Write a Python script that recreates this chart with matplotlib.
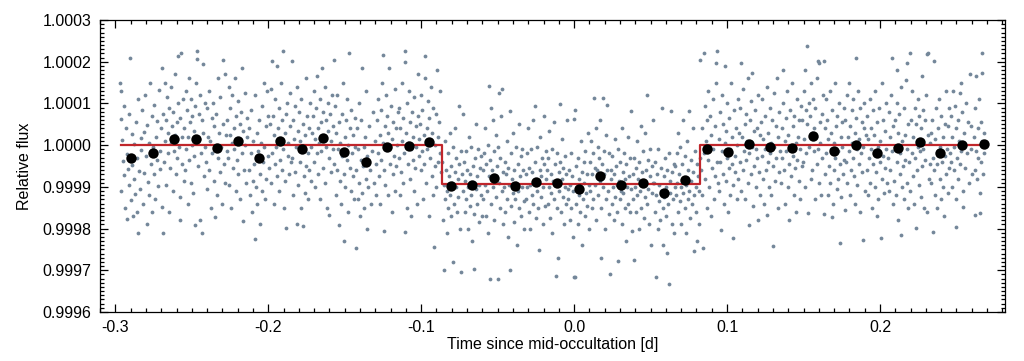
"""
Occultation light curve: unbinned photometry (grey), binned points (black)
and the best-fit box model (red).
"""

import matplotlib
matplotlib.use("Agg")
import matplotlib.pyplot as plt
from matplotlib.ticker import MultipleLocator, FormatStrFormatter

plt.rcParams["font.family"] = ["Liberation Sans", "DejaVu Sans"]

# -----------------------------------------------------------------------------
# unbinned points: (time [1e-4 d], flux offset [ppm])
# -----------------------------------------------------------------------------
GRAY_PRE = [
    (-2968,150),(-2966,130),(-2963,62),(-2960,-111),(-2955,12),(-2951,-38),(-2946,-72),(-2941,95),(-2936,-150),(-2931,40),(-2927,-176),(-2922,-22),(-2917,-58),(-2913,74),(-2908,-96),(-2902,208),(-2898,-132),(-2894,26),(-2889,-47),(-2886,-171),(-2881,-80),(-2876,3),(-2871,-118),(-2866,55),(-2861,-160),(-2856,-31),(-2852,110),(-2847,-61),(-2853,-211),(-2838,-104),(-2834,18),
    (-2829,-12),(-2824,84),(-2820,-140),(-2815,32),(-2811,-66),(-2806,120),(-2801,-25),(-2796,-190),(-2792,48),(-2787,-88),(-2782,5),(-2777,-120),(-2773,150),(-2768,-44),(-2763,70),(-2758,-160),(-2754,-5),(-2749,96),(-2744,-70),(-2740,-130),(-2735,20),(-2730,-35),(-2725,58),(-2720,-98),(-2716,132),(-2711,-15),(-2706,-58),(-2701,40),(-2696,-148),(-2694,186),(-2688,-211),
    (-2686,75),(-2682,-40),(-2678,150),(-2674,10),(-2670,-95),(-2666,60),(-2662,115),(-2658,-20),(-2654,30),(-2650,-160),(-2646,90),(-2641,-55),(-2637,140),(-2633,5),(-2629,45),(-2625,-110),(-2621,80),(-2617,-15),(-2613,25),(-2609,170),(-2604,-70),(-2600,55),(-2596,-30),(-2592,214),(-2588,100),(-2584,-5),(-2580,-125),(-2576,65),(-2574,-179),(-2570,222),(-2566,20),(-2562,-45),(-2558,110),(-2554,-85),
    (-2548,40),(-2544,-60),(-2540,130),(-2536,-10),(-2532,85),(-2528,-140),(-2524,20),(-2520,160),(-2516,-35),(-2512,55),(-2508,-90),(-2504,110),(-2500,0),(-2496,70),(-2492,-115),(-2488,35),(-2484,-25),(-2480,95),(-2476,-191),(-2472,150),(-2468,226),(-2465,206),(-2460,-50),(-2456,15),(-2452,75),(-2448,-179),(-2444,120),(-2440,-20),(-2436,60),(-2433,-211),(-2428,194),(-2424,30),(-2420,-75),(-2416,100),(-2412,-5),
    (-2407,-40),(-2403,88),(-2398,-105),(-2394,20),(-2389,130),(-2385,-60),(-2380,10),(-2376,-150),(-2371,65),(-2367,-20),(-2362,100),(-2358,-85),(-2353,45),(-2349,-173),(-2344,-10),(-2340,75),(-2335,-120),(-2331,160),(-2326,-30),(-2322,30),(-2317,-65),(-2313,115),(-2308,-5),(-2304,-140),(-2299,50),(-2296,204),(-2291,-45),(-2286,170),(-2282,-90),(-2277,25),(-2273,-15),
    (-2268,60),(-2264,-30),(-2260,140),(-2256,-95),(-2251,25),(-2247,90),(-2243,-150),(-2239,5),(-2234,120),(-2230,-55),(-2226,40),(-2222,-10),(-2217,160),(-2213,-110),(-2209,70),(-2205,-35),(-2200,105),(-2196,-70),(-2192,15),(-2188,50),(-2183,-130),(-2179,80),(-2175,-20),(-2170,186),(-2166,-183),(-2162,35),(-2158,-60),(-2153,125),(-2149,0),(-2145,-90),(-2141,65),(-2137,20),
    (-2128,-60),(-2124,40),(-2119,-120),(-2115,85),(-2110,-20),(-2106,-160),(-2102,10),(-2097,-85),(-2093,-45),(-2088,120),(-2084,-226),(-2080,-100),(-2075,30),(-2071,-140),(-2066,-15),(-2062,60),(-2057,-70),(-2053,-190),(-2049,5),(-2044,-110),(-2040,95),(-2035,-40),(-2031,150),(-2026,-5),(-2022,-130),(-2017,45),(-2013,-80),(-2008,130),(-2004,-25),(-1999,70),(-1994,-55),
    (-1988,50),(-1985,-90),(-1981,135),(-1977,202),(-1973,-20),(-1969,70),(-1965,-140),(-1961,25),(-1957,110),(-1953,-45),(-1949,-5),(-1945,190),(-1941,-75),(-1937,40),(-1933,-110),(-1929,90),(-1925,15),(-1921,-35),(-1917,150),(-1913,-60),(-1909,60),(-1905,-10),(-1901,226),(-1897,-150),(-1893,30),(-1889,-85),(-1885,75),(-1881,-198),(-1877,100),(-1873,-25),(-1869,5),(-1865,-70),(-1861,45),(-1857,125),(-1853,-40),
    (-1848,202),(-1844,-30),(-1840,60),(-1836,-120),(-1832,15),(-1828,95),(-1824,-65),(-1820,-5),(-1815,140),(-1811,-190),(-1807,35),(-1803,-95),(-1799,80),(-1795,-40),(-1791,10),(-1787,-150),(-1783,110),(-1779,-15),(-1775,-195),(-1771,50),(-1767,-75),(-1763,25),(-1759,-115),(-1755,160),(-1751,-50),(-1747,70),(-1743,-20),(-1739,-130),(-1735,40),(-1731,-60),(-1727,100),(-1723,-5),(-1719,-85),(-1715,30),
    (-1708,70),(-1704,-40),(-1700,130),(-1696,15),(-1692,-100),(-1688,90),(-1684,-20),(-1680,165),(-1676,40),(-1672,-70),(-1668,5),(-1664,110),(-1660,-130),(-1656,55),(-1652,-15),(-1648,185),(-1644,-55),(-1640,80),(-1636,20),(-1632,-90),(-1628,140),(-1624,-5),(-1620,60),(-1616,-150),(-1612,35),(-1608,100),(-1605,-167),(-1600,-30),(-1596,75),(-1592,10),(-1588,-65),(-1584,120),(-1580,-10),(-1576,45),(-1572,205),
    (-1568,-45),(-1564,95),(-1560,-120),(-1556,30),(-1552,-60),(-1548,120),(-1544,-10),(-1540,-191),(-1536,55),(-1532,-85),(-1528,5),(-1524,-140),(-1520,75),(-1516,-25),(-1512,150),(-1508,-70),(-1504,-230),(-1500,20),(-1496,-100),(-1492,60),(-1488,-35),(-1484,110),(-1480,-160),(-1476,0),(-1472,220),(-1468,-55),(-1464,40),(-1460,-110),(-1456,85),(-1452,-20),(-1448,-75),(-1444,25),(-1440,-130),(-1436,65),(-1432,-5),
    (-1428,-247),(-1424,-60),(-1420,40),(-1416,-130),(-1412,-10),(-1408,-90),(-1404,100),(-1400,-170),(-1396,-35),(-1392,60),(-1388,-115),(-1384,186),(-1380,-50),(-1376,-5),(-1372,-150),(-1368,20),(-1364,-80),(-1360,130),(-1356,-200),(-1352,-25),(-1347,-100),(-1342,45),(-1336,-60),(-1329,-140),(-1322,-15),(-1315,80),(-1308,-90),(-1302,10),(-1297,-45),(-1293,-120),
    (-1288,60),(-1284,-20),(-1280,110),(-1276,-75),(-1272,25),(-1268,-140),(-1264,85),(-1260,-35),(-1256,150),(-1252,5),(-1248,217),(-1246,-205),(-1242,-60),(-1238,45),(-1234,-95),(-1230,120),(-1226,-10),(-1222,70),(-1218,-120),(-1214,30),(-1210,186),(-1206,-45),(-1202,-5),(-1198,95),(-1194,-160),(-1190,15),(-1186,-70),(-1182,55),(-1178,-25),(-1174,135),(-1170,-110),(-1166,40),(-1162,-50),(-1158,0),(-1154,80),
    (-1148,-30),(-1144,90),(-1140,-120),(-1136,40),(-1132,-65),(-1128,150),(-1124,10),(-1120,-90),(-1116,65),(-1112,-20),(-1108,226),(-1106,200),(-1104,-207),(-1100,30),(-1096,-150),(-1092,100),(-1088,-45),(-1084,5),(-1080,130),(-1076,-80),(-1072,55),(-1068,-10),(-1064,-170),(-1060,80),(-1056,-35),(-1052,20),(-1048,-110),(-1044,115),(-1040,-55),(-1036,45),(-1032,-5),(-1028,-140),(-1024,70),(-1020,170),(-1016,-25),(-1012,15),
    (-1008,50),(-1004,-60),(-1000,120),(-996,-15),(-992,85),(-988,-130),(-984,25),(-980,-45),(-976,160),(-972,214),(-968,-90),(-964,40),(-960,-10),(-956,105),(-952,-170),(-948,65),(-944,-30),(-940,10),(-936,140),(-932,-75),(-928,30),(-924,-120),(-920,90),(-916,-243),(-912,0),(-908,-50),(-904,75),(-900,-100),(-896,180),(-892,20),(-888,-40),(-884,55),(-880,-20),(-876,130),(-872,-65),
]

GRAY_IN = [
    (-862,-40),(-858,-180),(-854,-95),(-850,-300),(-846,10),(-842,-130),(-838,-60),(-834,-210),(-830,-110),(-826,-20),(-822,-150),(-818,-75),(-814,30),(-810,-120),(-806,-50),(-802,-170),(-798,-90),(-794,-5),(-790,-279),(-786,-140),(-782,-65),(-778,40),(-774,-100),(-770,-30),(-766,-160),(-762,-80),(-758,-125),(-754,94),(-750,-45),(-746,-200),(-742,-15),(-738,-303),(-734,-70),
    (-728,74),(-724,-110),(-720,-40),(-716,-160),(-712,-85),(-708,-15),(-704,-130),(-700,-60),(-696,-200),(-692,-100),(-688,20),(-684,-145),(-680,-70),(-676,-5),(-672,-120),(-668,-230),(-664,-50),(-660,-90),(-656,-298),(-652,-165),(-648,-30),(-644,-105),(-640,50),(-636,-75),(-632,-140),(-628,-10),(-624,-185),(-620,-95),(-616,-55),(-612,-120),(-608,-25),(-604,-170),
    (-598,-60),(-594,-130),(-590,-20),(-586,-95),(-582,40),(-578,-170),(-574,-45),(-570,-110),(-566,0),(-562,-210),(-558,-75),(-555,142),(-553,-320),(-549,-35),(-545,-140),(-541,90),(-537,-60),(-533,-100),(-529,60),(-525,-15),(-521,-180),(-517,-80),(-513,25),(-509,-125),(-505,-50),(-501,-5),(-498,-322),(-494,124),(-490,-90),(-486,-150),(-482,-30),(-478,70),(-474,-110),(-470,134),(-466,-65),(-462,-190),
    (-458,-100),(-454,-40),(-450,-160),(-446,-70),(-442,10),(-438,-130),(-434,-220),(-430,-55),(-426,-95),(-422,82),(-418,-300),(-414,-145),(-410,-20),(-406,-80),(-402,-115),(-398,30),(-394,-185),(-390,-60),(-386,-130),(-382,-5),(-378,-90),(-374,-240),(-370,-45),(-366,-110),(-362,50),(-358,-150),(-354,-75),(-350,-25),(-346,-170),(-342,-100),(-338,-10),(-334,-60),(-330,-135),(-326,-200),
    (-318,-70),(-314,-130),(-310,-20),(-306,-100),(-302,40),(-298,-160),(-294,-55),(-290,-95),(-286,-200),(-282,-10),(-278,-120),(-274,-65),(-270,60),(-266,-140),(-262,-85),(-258,94),(-254,-40),(-250,-175),(-246,-110),(-242,-5),(-238,-90),(-234,-150),(-230,-251),(-226,-60),(-222,20),(-218,-125),(-214,-75),(-210,-30),(-206,-190),(-202,-100),(-198,-45),(-194,70),(-190,-145),(-186,-80),(-182,-15),
    (-178,-60),(-174,-140),(-170,-30),(-166,-100),(-162,35),(-158,-175),(-154,-70),(-150,-115),(-146,-10),(-142,-210),(-138,-85),(-134,55),(-130,-130),(-126,-45),(-122,-95),(-117,-314),(-114,-20),(-110,-150),(-106,-271),(-102,-65),(-98,-110),(-94,98),(-90,-40),(-86,-160),(-82,-80),(-78,15),(-74,-125),(-70,-55),(-66,-190),(-62,-100),(-58,-25),(-54,-140),(-50,-70),(-46,60),(-42,-105),
    (-38,-130),(-34,-60),(-30,-180),(-26,-95),(-22,-20),(-18,-150),(-14,-75),(-10,-220),(-6,-110),(-2,-316),(2,62),(4,-316),(6,84),(10,-140),(14,-50),(18,-100),(22,-190),(26,-30),(30,-120),(34,-80),(38,-160),(42,10),(46,-105),(50,-65),(54,-240),(58,-130),(62,-40),(66,-90),(70,-170),(74,-15),(78,-115),(82,-70),(86,-145),(90,30),(94,-95),(98,-200),
    (102,-40),(106,-110),(110,10),(114,-150),(118,-70),(122,-20),(126,-130),(130,114),(134,-55),(138,-95),(142,40),(146,-180),(150,-60),(154,-5),(158,-120),(162,-30),(166,-85),(170,60),(174,-150),(178,-271),(182,-45),(186,112),(190,-100),(194,-15),(198,-70),(202,-200),(206,25),(210,-130),(214,96),(218,-60),(222,-110),(226,-20),(230,-165),(234,-310),(238,-80),
    (242,-60),(246,-140),(250,-25),(254,-100),(258,-180),(262,-70),(266,15),(270,-125),(274,-50),(278,-95),(282,-160),(286,-10),(290,-278),(294,-85),(298,-130),(302,-40),(306,-110),(310,40),(314,-190),(318,-65),(322,-115),(326,-20),(330,-150),(334,-80),(338,-230),(342,-45),(346,-100),(350,20),(354,-140),(358,-75),(362,-160),(366,-30),(370,-105),(374,82),(378,-205),
    (382,-70),(386,-130),(390,-275),(394,-30),(398,-100),(402,-160),(406,-55),(410,10),(414,-120),(418,-80),(422,-200),(426,-40),(430,-110),(434,45),(438,-150),(442,-65),(446,-95),(450,-15),(454,-175),(458,-85),(462,-125),(466,30),(470,-60),(474,120),(478,-140),(482,-105),(486,-35),(490,-190),(494,-75),(498,-10),(502,-240),(506,-115),(510,-50),(514,60),(518,-90),
    (522,-90),(526,-160),(530,-40),(534,-316),(538,-120),(542,-70),(546,-200),(550,-10),(554,-135),(558,-95),(562,-180),(566,-55),(570,-110),(574,88),(578,-150),(582,-240),(586,-75),(590,-125),(594,-30),(598,-170),(602,-100),(606,-259),(610,-60),(614,-140),(618,-20),(622,-332),(626,-85),(630,-115),(634,82),(638,-190),(642,-65),(646,-130),(650,-45),(654,-210),(658,-100),
    (662,-50),(666,-120),(670,-20),(674,-90),(678,-160),(682,30),(686,-70),(690,-135),(694,-5),(698,-100),(702,-190),(706,-45),(710,-115),(714,60),(718,-80),(722,-150),(726,-25),(730,-210),(734,-95),(738,10),(742,-130),(746,-60),(750,82),(754,-110),(758,-175),(762,-35),(766,-85),(770,-140),(774,40),(778,-65),(782,-120),(786,-254),(790,-15),(794,-100),(798,-160),(802,-45),(806,-230),(810,-75),(814,-190),(818,-110),(822,-30),
]

GRAY_POST = [
    (826,204),(830,-60),(834,40),(838,-120),(842,-247),(846,222),(850,-20),(854,95),(858,-80),(862,10),(866,-150),(870,60),(874,-35),(878,130),(882,-100),(886,-5),(890,70),(894,-170),(898,25),(902,-55),(906,110),(910,-10),(914,-130),(918,45),(922,-75),(926,150),(930,196),(934,-40),(937,226),(940,-90),
    (944,15),(948,-110),(952,80),(956,-40),(960,-203),(964,120),(968,-15),(972,-70),(976,50),(980,-140),(984,5),(987,190),(990,-85),(994,35),(998,-30),(1002,100),(1006,-160),(1010,-55),(1014,65),(1018,-10),(1022,-120),(1026,150),(1030,-45),(1034,20),(1038,-222),(1042,-95),(1046,85),(1050,-25),(1054,-65),(1058,40),(1062,-130),(1066,0),(1070,110),(1074,-80),(1078,30),
    (1082,-40),(1086,90),(1090,196),(1094,-110),(1098,20),(1102,-60),(1106,135),(1110,-15),(1114,50),(1118,-130),(1122,75),(1126,-35),(1130,10),(1134,-90),(1138,160),(1142,-20),(1146,-191),(1150,60),(1154,-70),(1158,105),(1162,-5),(1166,174),(1170,-145),(1174,35),(1178,-50),(1182,85),(1186,-10),(1190,-100),(1194,40),(1198,-30),(1202,120),(1205,-179),(1210,-65),(1214,25),(1218,-120),
    (1222,55),(1226,-25),(1230,110),(1234,-80),(1238,15),(1242,-140),(1246,70),(1250,-10),(1254,-60),(1258,-167),(1262,140),(1266,-40),(1270,30),(1274,-100),(1278,90),(1282,-20),(1286,5),(1290,-120),(1294,60),(1298,-241),(1302,-50),(1306,125),(1310,-5),(1314,-85),(1318,45),(1322,-30),(1326,160),(1330,-150),(1334,20),(1338,-65),(1342,80),(1346,-15),
    (1352,-90),(1356,40),(1360,-30),(1364,100),(1368,180),(1372,-60),(1376,10),(1380,-140),(1384,65),(1388,-15),(1392,130),(1396,-100),(1400,25),(1404,-45),(1408,-180),(1412,85),(1416,-5),(1420,-75),(1424,150),(1428,-25),(1432,45),(1436,-120),(1440,70),(1444,-55),(1448,5),(1452,-160),(1456,110),(1460,-35),(1464,20),(1468,-85),(1472,60),(1476,-10),(1480,-130),(1484,95),(1488,-50),
    (1492,60),(1496,-40),(1500,130),(1504,15),(1508,-100),(1510,180),(1514,85),(1518,-20),(1522,50),(1525,238),(1530,-163),(1534,100),(1538,-5),(1542,70),(1546,-80),(1550,150),(1554,30),(1558,-60),(1562,110),(1566,-15),(1570,40),(1574,-130),(1578,90),(1582,20),(1586,-45),(1590,160),(1594,-10),(1597,202),(1599,198),(1602,-90),(1606,55),(1610,5),(1614,-120),(1618,75),(1622,-30),(1626,120),
    (1632,202),(1634,-165),(1638,40),(1642,-70),(1646,110),(1650,-20),(1654,60),(1658,-120),(1662,15),(1666,-50),(1670,130),(1684,-173),(1674,-90),(1678,30),(1682,-10),(1688,85),(1692,-140),(1696,5),(1700,-60),(1704,150),(1708,-30),(1712,45),(1716,-105),(1720,70),(1724,-15),(1728,-80),(1732,100),(1736,-45),(1738,-234),(1742,20),(1746,-125),(1750,55),(1754,-5),(1758,-70),(1762,90),(1766,-35),
    (1770,-155),(1774,60),(1778,-40),(1782,120),(1786,-90),(1790,20),(1794,-15),(1798,150),(1802,-120),(1806,45),(1810,-60),(1814,85),(1818,5),(1822,-30),(1826,110),(1830,-75),(1834,30),(1838,-140),(1840,210),(1844,65),(1848,-10),(1852,-95),(1856,130),(1860,-45),(1864,15),(1868,-160),(1872,90),(1876,-20),(1880,55),(1884,-65),(1888,-5),(1890,-227),(1894,100),(1898,40),(1902,-110),(1906,25),
    (1912,-60),(1916,70),(1920,-120),(1924,15),(1928,-30),(1932,110),(1936,-90),(1940,40),(1944,-10),(1948,-150),(1952,85),(1956,-45),(1960,25),(1964,-100),(1968,130),(1972,-20),(1976,-65),(1978,-169),(1982,55),(1986,-5),(1990,-130),(1994,90),(1998,-40),(2002,10),(2006,-223),(2010,-80),(2014,150),(2018,-25),(2022,60),(2026,-115),(2030,35),(2034,-55),(2038,-10),(2042,100),(2046,-90),
    (2052,-30),(2056,80),(2060,-110),(2064,20),(2068,-60),(2072,120),(2076,-15),(2080,210),(2084,-140),(2088,45),(2092,-85),(2096,60),(2100,-5),(2104,-120),(2108,100),(2109,180),(2112,-40),(2116,30),(2120,-180),(2124,75),(2128,-20),(2132,-70),(2136,140),(2140,-215),(2142,-100),(2146,10),(2150,-50),(2154,90),(2158,-130),(2162,25),(2166,-35),(2170,155),(2174,-90),(2175,198),(2178,-10),(2182,50),(2186,-150),
    (2192,-40),(2196,222),(2198,-110),(2202,60),(2206,-20),(2210,130),(2214,-75),(2218,20),(2222,-140),(2226,90),(2230,-30),(2234,-199),(2238,50),(2242,-60),(2246,110),(2250,-5),(2254,-95),(2258,70),(2262,-15),(2266,-125),(2270,40),(2273,166),(2276,-50),(2280,85),(2284,-10),(2288,-150),(2292,60),(2296,-35),(2300,120),(2305,-161),(2308,218),(2312,25),(2316,220),(2320,-80),(2324,5),(2328,-45),
    (2332,30),(2336,-90),(2340,60),(2344,-30),(2348,-207),(2350,202),(2354,-60),(2358,-120),(2362,15),(2366,90),(2370,-45),(2374,-150),(2378,40),(2382,-15),(2386,110),(2390,-80),(2394,-5),(2398,-130),(2402,70),(2406,-40),(2410,20),(2414,-100),(2418,-170),(2422,50),(2426,-25),(2430,130),(2434,-70),(2438,-10),(2442,-115),(2446,45),(2450,-55),(2454,90),(2458,-20),
    (2462,-40),(2466,70),(2470,-100),(2474,20),(2478,130),(2482,-60),(2486,-5),(2490,95),(2494,-130),(2497,-197),(2500,40),(2504,-30),(2508,60),(2512,-80),(2516,10),(2520,126),(2524,-45),(2528,150),(2532,-15),(2536,80),(2540,-110),(2545,-149),(2550,30),(2556,-55),(2562,100),(2568,-20),(2574,55),(2580,-90),(2586,170),(2592,-10),(2598,45),(2604,-70),
    (2612,20),(2618,-60),(2620,-167),(2624,90),(2628,-15),(2630,166),(2634,-80),(2638,40),(2644,-30),(2648,110),(2652,-115),(2654,-163),(2658,55),(2662,-40),(2665,222),(2668,10),(2670,172),(2674,-70),(2678,30),(2682,-20),
]

# binned points
BIN_T = [-0.2895, -0.2756, -0.2614, -0.2475, -0.2337, -0.2198, -0.2061, -0.1922,
         -0.1782, -0.1643, -0.1503, -0.1362, -0.1222, -0.1083, -0.0946, -0.0806,
         -0.0667, -0.0527, -0.0388, -0.0248, -0.0109, 0.0030, 0.0170, 0.0309,
         0.0449, 0.0590, 0.0727, 0.0867, 0.1009, 0.1146, 0.1283, 0.1425,
         0.1564, 0.1701, 0.1843, 0.1982, 0.2119, 0.2261, 0.2392, 0.2538, 0.2680]
BIN_F = [0.999969, 0.999981, 1.000015, 1.000015, 0.999993, 1.000011, 0.999969, 1.000011,
         0.999990, 1.000018, 0.999984, 0.999959, 0.999996, 0.999999, 1.000007, 0.999903,
         0.999904, 0.999921, 0.999903, 0.999911, 0.999909, 0.999896, 0.999926, 0.999904,
         0.999909, 0.999885, 0.999917, 0.999991, 0.999984, 1.000002, 0.999995, 0.999993,
         1.000022, 0.999986, 1.000000, 0.999982, 0.999992, 1.000007, 0.999981, 1.000001, 1.000002]

# box-shaped occultation model
MODEL_T = [-0.296, -0.0863, -0.0863, 0.0824, 0.0824, 0.268]
MODEL_F = [1.0, 1.0, 0.999908, 0.999908, 1.0, 1.0]

GREY = "#74879a"
RED = "#c0262b"


def main():
    pts = GRAY_PRE + GRAY_IN + GRAY_POST
    t = [p[0] * 1e-4 for p in pts]
    f = [1.0 + p[1] * 1e-6 for p in pts]

    fig = plt.figure(figsize=(10.24, 3.61), dpi=100)
    ax = fig.add_axes([0.0977, 0.1357, 0.8837, 0.8089])

    ax.scatter(t, f, s=7.5, color=GREY, linewidths=0, zorder=1)
    ax.plot(MODEL_T, MODEL_F, color=RED, lw=1.6, zorder=2)
    ax.scatter(BIN_T, BIN_F, s=56, color="black", linewidths=0, zorder=3)

    ax.set_xlim(-0.31, 0.2817)
    ax.set_ylim(0.9996, 1.0003)
    ax.xaxis.set_major_locator(MultipleLocator(0.1))
    ax.xaxis.set_minor_locator(MultipleLocator(0.01))
    ax.yaxis.set_major_locator(MultipleLocator(0.0001))
    ax.yaxis.set_minor_locator(MultipleLocator(0.00001))
    ax.xaxis.set_major_formatter(FormatStrFormatter("%.1f"))
    ax.yaxis.set_major_formatter(FormatStrFormatter("%.4f"))
    ax.tick_params(which="both", direction="in", top=True, right=True,
                   labelsize=11.5, width=0.9)
    ax.tick_params(which="major", length=6, pad=6)
    ax.tick_params(which="minor", length=3)
    for sp in ax.spines.values():
        sp.set_linewidth(0.9)

    ax.set_xlabel("Time since mid-occultation [d]", fontsize=11.5, labelpad=1)
    ax.set_ylabel("Relative flux", fontsize=11.5, labelpad=8)

    fig.savefig("out.png", dpi=100)
    plt.close(fig)


if __name__ == "__main__":
    main()
